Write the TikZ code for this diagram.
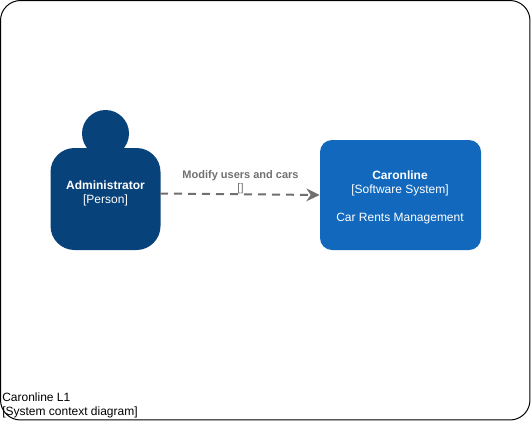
\documentclass[tikz,border=0pt]{standalone}
\usepackage{fontspec}
\setmainfont{Liberation Sans}
\usepackage{tikz}
\usetikzlibrary{positioning}
\usetikzlibrary{arrows.meta}
\definecolor{personblue}{HTML}{08427B}
\definecolor{systemblue}{HTML}{1168BD}
\definecolor{linkgray}{HTML}{707070}
\tikzset{
  labeltext/.style={font=\fontsize{9}{10.5}\selectfont, align=center, inner sep=0pt},
  whitetext/.style={labeltext, text=white},
  linktext/.style={labeltext, font=\fontsize{8.25}{9.75}\selectfont, text=linkgray},
}

\begin{document}
\begin{tikzpicture}[x=0.75pt,y=-0.75pt]
\useasboundingbox (0,0) rectangle (531,421);
\node[draw, line width=0.75pt, rounded corners=15pt, minimum width=397.1pt, minimum height=314.6pt, inner sep=0pt] (frame) at (265.25,210.25) {};
\node[fill=personblue, circle, minimum size=35.25pt, inner sep=0pt] (head) at (105.5,133.5) {};
\node[fill=personblue, rounded corners=18pt, minimum width=82.5pt, minimum height=76.5pt, inner sep=0pt] (body) at (105.5,199) {};
\node[whitetext] (person) at (105.5,193.5) {\textbf{Administrator}\\{}[Person]};
\node[fill=systemblue, rounded corners=9pt, minimum width=120.75pt, minimum height=82.5pt, inner sep=0pt] (system) at (400.5,195) {};
\node[whitetext] (systemtext) at (400,197) {\textbf{Caronline}\\{}[Software System]\\[10.5pt]Car Rents Management};
\coordinate (start) at (160,193.5);
\draw[linkgray, line width=1.5pt, dash pattern=on 6pt off 4.5pt, -{Stealth[length=10pt,width=9.5pt]}] (start) -- (system.west);
\node[linktext] (linklabel) at (240.5,182) {\textbf{Modify users and cars}\\{}[]};
\node[labeltext, align=left, anchor=north west] (caption) at (2,392.5) {Caronline L1\\{}[System context diagram]};
\end{tikzpicture}
\end{document}
